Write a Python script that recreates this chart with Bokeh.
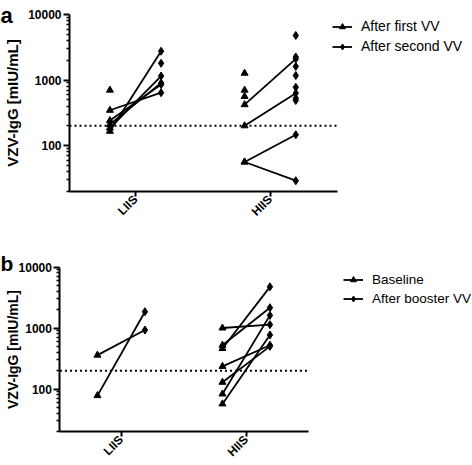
import math
from bokeh.plotting import figure
from bokeh.models import (ColumnDataSource, FixedTicker, PrintfTickFormatter,
                          Legend, LegendItem, Label, Range1d)
from bokeh.layouts import column
from bokeh.embed import file_html
from bokeh.resources import INLINE

categories = ["LIIS", "HIIS"]

# Panel a: after first / after second varicella vaccination (None = no value)
a_group = ["LIIS"] * 7 + ["HIIS"] * 14
a_first = [700, 345, 240, 210, 185, 165, None,
           1270, 700, 560, 420, 200, 56, 56, None, None, None, None, None, None, None]
a_second = [None, 640, 850, 900, 1150, 2750, 1800,
            None, None, None, 2100, 630, 146, 29, 4780, 2250, 1610, 1170, 775, 527, 487]
a_labels = ["After first VV", "After second VV"]

# Panel b: baseline / after booster
b_group = ["LIIS"] * 2 + ["HIIS"] * 7
b_first = [359, 78, 1000, 522, 461, 235, 129, 83, 57]
b_second = [927, 1850, 1135, 2150, 4730, 522, 500, 1610, 769]
b_labels = ["Baseline", "After booster VV"]

threshold = 200
y_major = [100, 1000, 10000]
y_min, y_max = 20, 10000
x_lo, x_hi = -0.49, 1.5
y_label = "VZV-IgG [mIU/mL]"

FONT = "Liberation Sans"
OFF = 0.19


def make_panel(group, first, second, labels, letter, W, H, x0_px, unit_px, ytop_px, dec_px,
               legend_xy, legend_size, ylab_size, ylab_standoff, letter_xy, letter_size):
    # ranges chosen so that the frame fills the whole canvas
    xs = -x0_px / unit_px
    xe = xs + W / unit_px
    ye = 10 ** (math.log10(y_max) + ytop_px / dec_px)
    ys = 10 ** (math.log10(y_max) - (H - ytop_px) / dec_px)
    p = figure(width=W, height=H, y_axis_type="log",
               x_range=Range1d(xs, xe), y_range=Range1d(ys, ye),
               output_backend="svg", toolbar_location=None,
               min_border_left=0, min_border_right=0,
               min_border_top=0, min_border_bottom=0)
    p.grid.visible = False
    p.outline_line_color = None

    xi = [categories.index(g) for g in group]
    f_src = ColumnDataSource(dict(x=[x - OFF for x, v in zip(xi, first) if v is not None],
                                  y=[v for v in first if v is not None]))
    s_src = ColumnDataSource(dict(x=[x + OFF for x, v in zip(xi, second) if v is not None],
                                  y=[v for v in second if v is not None]))
    pairs = [(x, a, b) for x, a, b in zip(xi, first, second) if a is not None and b is not None]
    seg_src = ColumnDataSource(dict(x0=[x - OFF for x, a, b in pairs], y0=[a for x, a, b in pairs],
                                    x1=[x + OFF for x, a, b in pairs], y1=[b for x, a, b in pairs]))

    p.line(x=[x_lo, x_hi], y=[threshold, threshold], line_color="black",
           line_dash="2 3", line_width=2)

    seg = p.segment("x0", "y0", "x1", "y1", source=seg_src, line_color="black", line_width=1.8)
    tri = p.scatter("x", "y", source=f_src, marker="triangle", size=7,
                    fill_color="black", line_color="black")
    dia = p.scatter("x", "y", source=s_src, marker="diamond", size=8,
                    fill_color="black", line_color="black")

    items = [LegendItem(label=labels[0], renderers=[seg, tri]),
             LegendItem(label=labels[1], renderers=[seg, dia])]
    legend = Legend(items=items, location=legend_xy, padding=0, margin=0, spacing=4,
                    glyph_width=20, glyph_height=15, label_height=15, label_standoff=9,
                    border_line_color=None, background_fill_alpha=0,
                    label_text_font=FONT, label_text_font_size=legend_size,
                    label_text_color="black")
    p.add_layout(legend)

    p.add_layout(Label(x=letter_xy[0], y=letter_xy[1], x_units="screen", y_units="screen",
                       text=letter, text_font=FONT, text_align="left",
                       text_baseline="alphabetic", text_font_style="bold",
                       text_font_size=letter_size, text_color="black"))

    # x axis
    p.xaxis.fixed_location = y_min
    p.xaxis.bounds = (x_lo, x_hi)
    p.xaxis.ticker = FixedTicker(ticks=[0, 1])
    p.xaxis.major_label_overrides = {0: categories[0], 1: categories[1]}
    p.xaxis.major_label_orientation = math.pi / 4
    p.xaxis.major_label_standoff = 1
    p.xaxis.major_tick_out = 5
    p.xaxis.major_tick_in = 0
    p.xaxis.minor_tick_line_color = None

    # y axis
    minor = [m * d for d in (10, 100, 1000) for m in range(2, 10) if m * d >= y_min]
    p.yaxis.fixed_location = x_lo
    p.yaxis.bounds = (y_min, y_max)
    p.yaxis.ticker = FixedTicker(ticks=y_major, minor_ticks=minor)
    p.yaxis.formatter = PrintfTickFormatter(format="%d")
    p.yaxis.major_label_standoff = 2
    p.yaxis.major_tick_out = 6
    p.yaxis.major_tick_in = 0
    p.yaxis.minor_tick_out = 3
    p.yaxis.minor_tick_in = 0
    p.yaxis.axis_label = y_label
    p.yaxis.axis_label_standoff = ylab_standoff
    p.yaxis.axis_label_text_font = FONT
    p.yaxis.axis_label_text_font_style = "bold"
    p.yaxis.axis_label_text_font_size = ylab_size
    p.yaxis.axis_label_text_color = "black"

    for ax in (p.xaxis, p.yaxis):
        ax.axis_line_width = 2
        ax.axis_line_color = "black"
        ax.major_tick_line_width = 2
        ax.major_tick_line_color = "black"
        ax.minor_tick_line_width = 1.5
        ax.major_label_text_font = FONT
        ax.major_label_text_font_style = "bold"
        ax.major_label_text_color = "black"
        ax.major_label_text_font_size = "12px"
    return p


p1 = make_panel(a_group, a_first, a_second, a_labels, "a", 472, 230,
                135, 134.7, 14, 65.5, (332, 176), "14px", "15px", 4, (0, 215), "22px")
p2 = make_panel(b_group, b_first, b_second, b_labels, "b", 472, 235,
                120.7, 125, 36.5, 61, (343, 159), "13.5px", "14px", -6, (0, 202), "21px")

layout = column(p1, p2, spacing=0)
open("out.html", "w").write(file_html(layout, INLINE))
